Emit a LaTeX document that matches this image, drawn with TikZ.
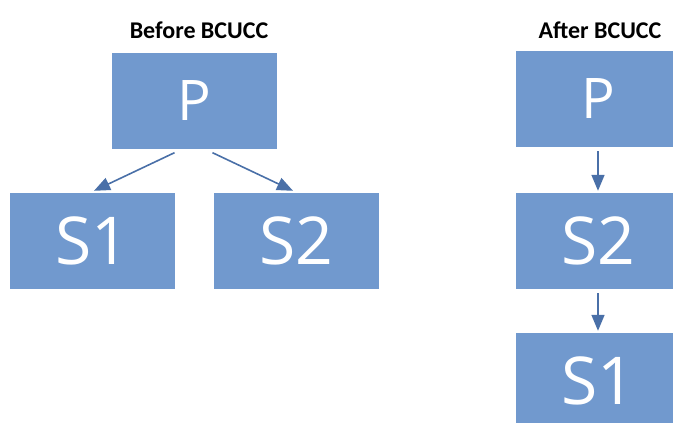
\documentclass[tikz,border=0pt]{standalone}
\usepackage{fontspec}
\setmainfont{Open Sans}
\newfontfamily\titlefont{Carlito}
\usetikzlibrary{arrows.meta}
\definecolor{boxblue}{HTML}{7199CE}
\definecolor{arrowblue}{HTML}{4A70A8}

\begin{document}
\begin{tikzpicture}[x=1pt,y=-1pt,
  box/.style={fill=boxblue,text=white,minimum width=165pt,minimum height=96pt,inner sep=0pt},
  ptext/.style={font=\fontsize{56}{56}\selectfont},
  stext/.style={font=\fontsize{66}{66}\selectfont},
  heading/.style={font=\titlefont\bfseries\fontsize{24}{26}\selectfont},
  link/.style={draw=arrowblue,line width=1.6pt,-{Triangle[length=16pt,width=13pt]}}]
\clip (0,0) rectangle (673,423);
% before
\node[heading] (before) at (199,30) {Before BCUCC};
\node[box,ptext] (p) at (194.5,100.5) {P};
\node[box,stext] (s1) at (92,241) {S1};
\node[box,stext] (s2) at (296,241) {S2};
\draw[link] ([xshift=-20pt,yshift=-4pt]p.south) -- ([xshift=2pt,yshift=2pt]s1.north);
\draw[link] ([xshift=18pt,yshift=-4pt]p.south) -- ([xshift=-3pt,yshift=2pt]s2.north);
% after
\node[heading] (after) at (600,30) {After BCUCC};
\node[box,ptext] (pp) at (598,99) {P};
\node[box,stext] (ss2) at (598,241) {S2};
\node[box,stext] (ss1) at (598,381) {S1};
\draw[link] ([yshift=-4pt]pp.south) -- ([yshift=2pt]ss2.north);
\draw[link] ([yshift=-4pt]ss2.south) -- ([yshift=2pt]ss1.north);
\end{tikzpicture}
\end{document}
